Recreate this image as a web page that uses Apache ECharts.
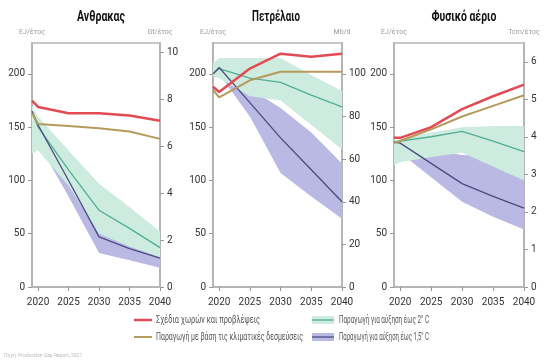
<!DOCTYPE html>
<html><head><meta charset="utf-8">
<script src="https://cdn.jsdelivr.net/npm/echarts@6/dist/echarts.min.js"></script>
<style>html,body{margin:0;padding:0;background:#fff}#c{width:544px;height:362px}</style>
</head><body><div id="c"></div>
<script>
const years = [2019, 2020, 2025, 2030, 2035, 2040];
const xTicks = [2020, 2025, 2030, 2035, 2040];
const leftTicks = [0, 50, 100, 150, 200];
const titles = ['Ανθρακας', 'Πετρέλαιο', 'Φυσικό αέριο'];
const leftUnits = ['EJ/έτος', 'EJ/έτος', 'EJ/έτος'];
const rightUnits = ['Gt/έτος', 'Mb/d', 'Tcm/έτος'];
const rightTicks = [[0, 2, 4, 6, 8, 10], [0, 20, 40, 60, 80, 100], [0, 1, 2, 3, 4, 5, 6]];
const rightMax = [10.41, 114.5, 6.5];
const leftMax = 229;
const legendNames = ['Σχέδια χωρών και προβλέψεις', 'Παραγωγή με βάση τις κλιματικές δεσμεύσεις', 'Παραγωγή για αύξηση έως 2° C', 'Παραγωγή για αύξηση έως 1,5° C'];
const sourceNote = 'Πηγή: Production Gap Report, 2021';

// Coal (EJ/year)
const coalPlans = [175, 169, 163, 163, 161, 156];
const coalPledges = [163, 153, 151, 149, 146, 139];
const coal2C = [165, 150, 110, 72, 55, 37];
const coal2CLow = [125, 128, 95, 50, 38, 28];
const coal2CHigh = [170, 160, 128, 97, 75, 52];
const coal15C = [165, 152, 100, 47, 36, 27];
const coal15CLow = [133, 135, 85, 32, 25, 18];
const coal15CHigh = [160, 158, 108, 53, 40, 30];

// Oil (EJ/year)
const oilPlans = [188, 183, 205, 219, 216, 219];
const oilPledges = [185, 178, 194, 202, 202, 202];
const oil2C = [200, 205, 196, 192, 180, 169];
const oil2CLow = [198, 196, 179, 175, 152, 129];
const oil2CHigh = [210, 215, 215, 215, 199, 184];
const oil15C = [200, 206, 173, 140, 110, 80];
const oil15CLow = [196, 200, 160, 107, 85, 64];
const oil15CHigh = [202, 208, 186, 168, 145, 116];

// Gas (EJ/year)
const gasPlans = [140, 140, 150, 167, 179, 190];
const gasPledges = [135, 137, 148, 160, 170, 180];
const gas2C = [136, 137, 141, 146, 137, 127];
const gas2CLow = [114, 117, 122, 126, 113, 100];
const gas2CHigh = [138, 139, 145, 150, 151, 151];
const gas15C = [136, 135, 116, 97, 85, 74];
const gas15CLow = [127, 126, 103, 80, 66, 54];
const gas15CHigh = [137, 137, 129, 124, 123, 121];

const panels = [
  {plans: coalPlans, pledges: coalPledges, c2: coal2C, c2l: coal2CLow, c2h: coal2CHigh, c15: coal15C, c15l: coal15CLow, c15h: coal15CHigh},
  {plans: oilPlans, pledges: oilPledges, c2: oil2C, c2l: oil2CLow, c2h: oil2CHigh, c15: oil15C, c15l: oil15CLow, c15h: oil15CHigh},
  {plans: gasPlans, pledges: gasPledges, c2: gas2C, c2l: gas2CLow, c2h: gas2CHigh, c15: gas15C, c15l: gas15CLow, c15h: gas15CHigh}
];

const FONT = "Roboto, 'Liberation Sans', sans-serif";
const RED = '#e24b53', BROWN = '#b59a5c', GREEN = '#4fae93', PURPLE = '#4b4b82';
const GREEN_BAND = '#cdecdf', PURPLE_BAND = '#bab9e3';
const AXIS = '#b5b5b5';

const gridsPos = [{left: 32, width: 128}, {left: 213, width: 129}, {left: 394, width: 130}];
const titleX = [101, 276, 464];
const titleW = [48, 48, 65];

const measureCtx = document.createElement('canvas').getContext('2d');
function fitScale(text, font, target) {
  measureCtx.font = font;
  const w = measureCtx.measureText(text).width;
  return w > 0 ? target / w : 1;
}

const grid = gridsPos.map(g => ({left: g.left, width: g.width, top: 43, height: 244, show: true, borderColor: AXIS, borderWidth: 1.5}));
const xAxis = gridsPos.map((g, i) => ({
  gridIndex: i, type: 'value', min: 2019, max: 2040,
  axisLine: {show: true, lineStyle: {color: AXIS, width: 2}},
  axisTick: {show: true, length: 4, customValues: xTicks, lineStyle: {color: '#999'}},
  axisLabel: {customValues: xTicks, formatter: v => String(v), margin: 10, fontSize: 10, color: '#333', fontFamily: FONT},
  splitLine: {show: false}
}));
const yAxis = [];
gridsPos.forEach((g, i) => {
  yAxis.push({
    gridIndex: i, type: 'value', min: 0, max: leftMax, position: 'left',
    axisLine: {show: true, lineStyle: {color: AXIS, width: 2}},
    axisTick: {show: true, length: 4, customValues: leftTicks, lineStyle: {color: '#999'}},
    axisLabel: {customValues: leftTicks, formatter: v => String(v), margin: 7, fontSize: 10, color: '#333', fontFamily: FONT},
    splitLine: {show: false},
    name: leftUnits[i], nameLocation: 'end', nameGap: 7,
    nameTextStyle: {color: '#999', fontSize: 7, fontFamily: FONT, align: 'center'}
  });
  yAxis.push({
    gridIndex: i, type: 'value', min: 0, max: rightMax[i], position: 'right',
    axisLine: {show: true, lineStyle: {color: AXIS, width: 2}},
    axisTick: {show: true, length: 4, customValues: rightTicks[i], lineStyle: {color: '#999'}},
    axisLabel: {customValues: rightTicks[i], formatter: v => String(v), margin: 7, fontSize: 10, color: '#333', fontFamily: FONT},
    splitLine: {show: false},
    name: rightUnits[i], nameLocation: 'end', nameGap: 7,
    nameTextStyle: {color: '#999', fontSize: 7, fontFamily: FONT, align: 'center'}
  });
});

function bandSeries(idx, low, high, color, z) {
  return {
    type: 'custom', coordinateSystem: 'cartesian2d', xAxisIndex: idx, yAxisIndex: idx * 2,
    data: [[years[0], high[0]]], silent: true, z: z, animation: false,
    renderItem: function (params, api) {
      const pts = [];
      for (let i = 0; i < years.length; i++) pts.push(api.coord([years[i], high[i]]));
      for (let i = years.length - 1; i >= 0; i--) pts.push(api.coord([years[i], low[i]]));
      return {type: 'polygon', shape: {points: pts}, style: {fill: color, blend: 'multiply'}};
    }
  };
}
function lineSeries(idx, vals, color, width, z) {
  return {
    type: 'line', xAxisIndex: idx, yAxisIndex: idx * 2,
    data: years.map((y, i) => [y, vals[i]]),
    symbol: 'none', lineStyle: {color: color, width: width}, itemStyle: {color: color},
    z: z, silent: true, animation: false
  };
}

const series = [];
panels.forEach((p, i) => {
  series.push(bandSeries(i, p.c15l, p.c15h, PURPLE_BAND, 1));
  series.push(bandSeries(i, p.c2l, p.c2h, GREEN_BAND, 2));
  series.push(lineSeries(i, p.c2, GREEN, 1.3, 3));
  series.push(lineSeries(i, p.c15, PURPLE, 1.3, 4));
  series.push(lineSeries(i, p.pledges, BROWN, 2, 5));
  series.push(lineSeries(i, p.plans, RED, 2.5, 6));
});

const graphic = [];
const titleFont = 'bold 15px Roboto';
titles.forEach((t, i) => graphic.push({
  type: 'text', x: titleX[i], y: 17, scaleX: fitScale(t, titleFont, titleW[i]),
  style: {text: t, align: 'center', verticalAlign: 'middle', fill: '#111', fontSize: 15, fontWeight: 'bold', fontFamily: 'Roboto'}
}));
const legFont = '10px Roboto';
const legX = [156, 156, 339, 339];
const legY = [320, 337, 320, 337];
const legW = [104, 147, 90, 90];
legendNames.forEach((t, i) => graphic.push({
  type: 'text', x: legX[i], y: legY[i], scaleX: fitScale(t, legFont, legW[i]),
  style: {text: t, fill: '#555', fontSize: 10, fontFamily: 'Roboto', verticalAlign: 'middle', align: 'left'}
}));
graphic.push({type: 'line', shape: {x1: 134, y1: 320, x2: 152, y2: 320}, style: {stroke: RED, lineWidth: 2.5}});
graphic.push({type: 'line', shape: {x1: 134, y1: 337, x2: 152, y2: 337}, style: {stroke: BROWN, lineWidth: 2}});
graphic.push({type: 'rect', shape: {x: 312, y: 316, width: 22, height: 8}, style: {fill: GREEN_BAND}});
graphic.push({type: 'line', shape: {x1: 312, y1: 320, x2: 334, y2: 320}, style: {stroke: GREEN, lineWidth: 1.3}});
graphic.push({type: 'rect', shape: {x: 312, y: 333, width: 22, height: 8}, style: {fill: PURPLE_BAND}});
graphic.push({type: 'line', shape: {x1: 312, y1: 337, x2: 334, y2: 337}, style: {stroke: PURPLE, lineWidth: 1.3}});
graphic.push({type: 'text', x: 4, y: 356, style: {text: sourceNote, fill: '#bbb', fontSize: 5, fontFamily: FONT, verticalAlign: 'middle'}});

const chart = echarts.init(document.getElementById('c'), null, {renderer: 'canvas'});
chart.setOption({
  backgroundColor: '#fff',
  animation: false,
  grid: grid, xAxis: xAxis, yAxis: yAxis, series: series, graphic: graphic
});
</script></body></html>
